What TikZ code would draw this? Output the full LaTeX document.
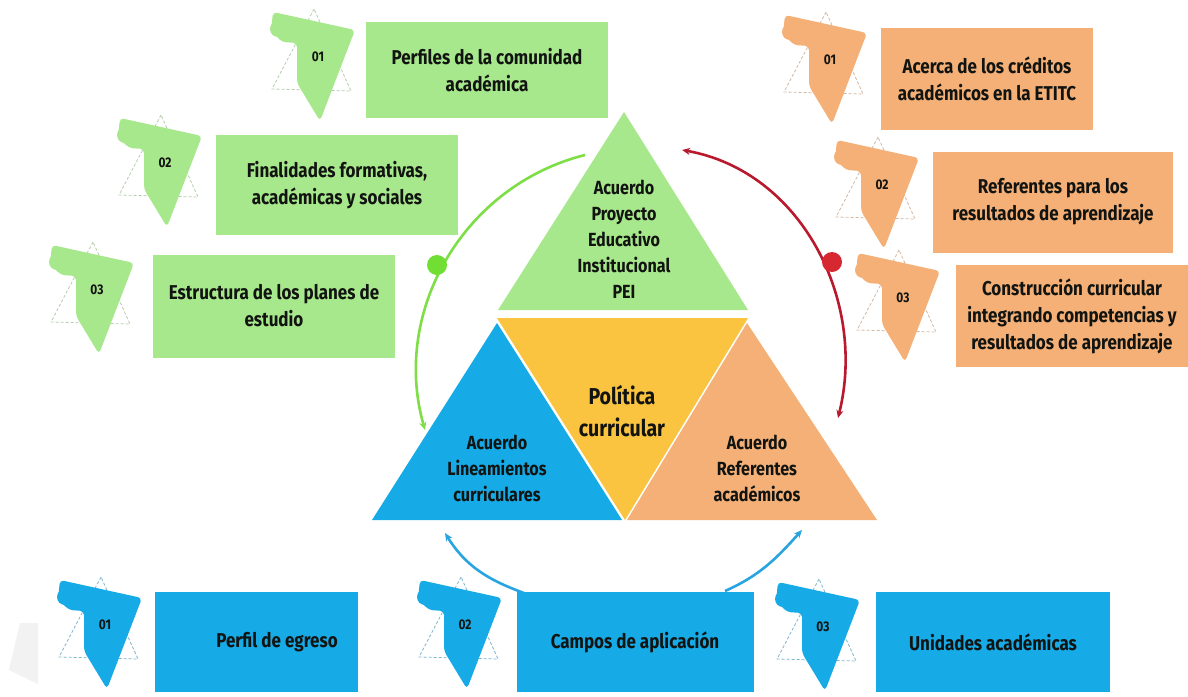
\documentclass[tikz,border=0pt]{standalone}
\usepackage{fontspec}
\setmainfont[FakeStretch=0.85]{Fira Sans}
\usetikzlibrary{arrows.meta,positioning}

\definecolor{pgreen}{RGB}{168,232,140}
\definecolor{porange}{RGB}{244,176,118}
\definecolor{pblue}{RGB}{22,170,230}
\definecolor{pyellow}{RGB}{250,196,64}
\definecolor{dotgreen}{RGB}{112,222,50}
\definecolor{arcgreen}{RGB}{125,222,70}
\definecolor{arcred}{RGB}{185,25,45}
\definecolor{dotred}{RGB}{215,40,50}
\definecolor{arcblue}{RGB}{40,165,225}
\definecolor{ink}{RGB}{18,20,18}

% numbered marker: name, position, colour, number
\newcommand{\numicon}[4]{%
  \begin{scope}[shift={#2}]
    \draw[#3!55!gray!70, densely dashed, line width=0.8pt] (-4,48) -- (-46,-32) -- (33,-34) -- cycle;
    \fill[#3, rounded corners=4pt] (-45,45) -- (37,27) -- (2,-64) -- (-21,-26) -- (-21,14) -- (-36,15) -- (-47,26) -- cycle;
    \fill[#3] (-40,28) circle (8);
    \draw[white, line width=0.8pt] (13,-44) arc[start angle=90, end angle=-90, radius=6];
    \node[numtxt] (#1) at (0,0) {#4};
  \end{scope}}

\begin{document}
\begin{tikzpicture}[x=1pt,y=1pt,
    numtxt/.style={text=ink, font=\bfseries\fontsize{14}{14}\selectfont, inner sep=0},
    boxtxt/.style={text=ink, align=center, inner sep=0, font=\bfseries\fontsize{20}{27}\selectfont},
    greenbox/.style={boxtxt, fill=pgreen},
    orangebox/.style={boxtxt, fill=porange},
    bluebox/.style={boxtxt, fill=pblue},
    tritxt/.style={boxtxt, font=\bfseries\fontsize{19}{26}\selectfont},
    bigtxt/.style={boxtxt, font=\bfseries\fontsize{23}{32}\selectfont},
    loop/.style={line width=2.6pt, -{Stealth[length=8pt,width=7pt]}}]

  \useasboundingbox[fill=white] (0,0) rectangle (1188,-696);
  \fill[gray!10] (20,-623) -- (38,-623) -- (38,-684) -- (9,-670) -- cycle;

  % central pyramid
  \fill[pgreen] (624,-112) -- (498,-310) -- (748,-310) -- cycle;
  \fill[pyellow] (497,-318) -- (748,-318) -- (625,-520) -- cycle;
  \fill[pblue] (497,-323) -- (372,-520) -- (622,-520) -- cycle;
  \fill[porange] (747,-323) -- (627,-520) -- (877,-520) -- cycle;

  \node[tritxt] (pei) at (624,-239) {Acuerdo\\Proyecto\\Educativo\\Institucional\\PEI};
  \node[bigtxt] (politica) at (622,-411) {Política\\curricular};
  \node[tritxt] (lineam) at (497,-468) {Acuerdo\\Lineamientos\\curriculares};
  \node[tritxt] (referent) at (757,-468) {Acuerdo\\Referentes\\académicos};

  % cycle arrows
  \coordinate (gstart) at (585,-155);
  \coordinate (gend) at (425,-430);
  \coordinate (rstart) at (682,-150);
  \coordinate (rend) at (838,-418);
  \coordinate (blstart) at (524,-593);
  \coordinate (blend) at (445,-533);
  \coordinate (brstart) at (725,-591);
  \coordinate (brend) at (802,-530);

  \draw[loop, arcgreen] (gstart) to[out=194,in=106] (gend);
  \draw[loop, arcred, {Stealth[length=8pt,width=7pt]}-{Stealth[length=8pt,width=7pt]}] (rstart) to[out=-10,in=76] (rend);
  \draw[loop, arcblue] (blstart) to[out=160,in=302] (blend);
  \draw[loop, arcblue] (brstart) to[out=24,in=228] (brend);
  \fill[dotgreen] (437,-265) circle (10);
  \fill[dotred] (832,-262) circle (10);

  % green group
  \node[greenbox, minimum width=242, minimum height=96] (gbox1) at (487,-70) {Perfiles de la comunidad\\académica};
  \node[greenbox, minimum width=242, minimum height=100] (gbox2) at (337,-185) {Finalidades formativas,\\académicas y sociales};
  \node[greenbox, minimum width=242, minimum height=103] (gbox3) at (274,-306) {Estructura de los planes de\\estudio};
  \numicon{gnum1}{(318,-57)}{pgreen}{01}
  \numicon{gnum2}{(165,-163)}{pgreen}{02}
  \numicon{gnum3}{(97,-290)}{pgreen}{03}

  % orange group
  \node[orangebox, minimum width=212, minimum height=102] (obox1) at (987,-79) {Acerca de los créditos\\académicos en la ETITC};
  \node[orangebox, minimum width=240, minimum height=101] (obox2) at (1053,-202) {Referentes para los\\resultados de aprendizaje};
  \node[orangebox, minimum width=233, minimum height=102] (obox3) at (1072,-316) {Construcción curricular\\integrando competencias y\\resultados de aprendizaje};
  \numicon{onum1}{(830,-60)}{porange}{01}
  \numicon{onum2}{(882,-185)}{porange}{02}
  \numicon{onum3}{(903,-298)}{porange}{03}

  % blue group
  \node[bluebox, minimum width=203, minimum height=100] (bbox1) at (256,-642) {};
  \node[boxtxt] (btxt1) at (277,-642) {Perfil de egreso};
  \node[bluebox, minimum width=237, minimum height=100] (bbox2) at (635,-642) {Campos de aplicación};
  \node[bluebox, minimum width=234, minimum height=100] (bbox3) at (993,-642) {Unidades académicas};
  \numicon{bnum1}{(105,-625)}{pblue}{01}
  \numicon{bnum2}{(465,-625)}{pblue}{02}
  \numicon{bnum3}{(823,-627)}{pblue}{03}
\end{tikzpicture}
\end{document}
